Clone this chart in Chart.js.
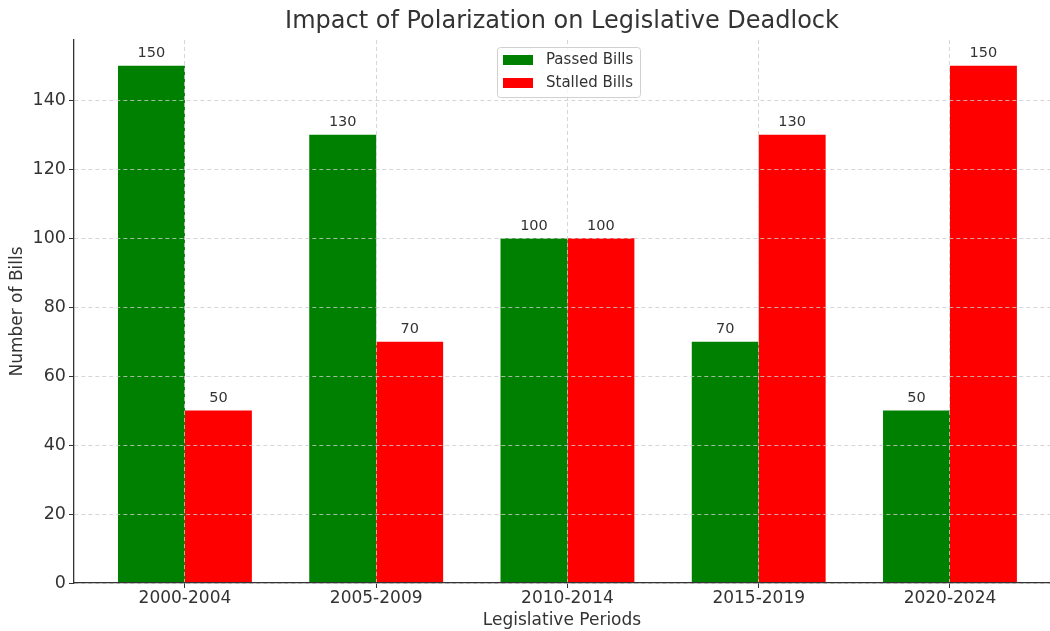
<!DOCTYPE html>
<html>
<head>
<meta charset="utf-8">
<script src="https://cdn.jsdelivr.net/npm/chart.js@4.4.1/dist/chart.umd.min.js"></script>
<style>
  html, body { margin: 0; padding: 0; background: #fff; }
  #wrap { width: 1050px; height: 631px; }
</style>
</head>
<body>
<div id="wrap"><canvas id="myChartBar" width="1050" height="631"></canvas></div>
<script>
let periods = ["2000-2004", "2005-2009", "2010-2014", "2015-2019", "2020-2024"];
let passedBills = [150, 130, 100, 70, 50];
let stalledBills = [50, 70, 100, 130, 150];
let yTicks = [0, 20, 40, 60, 80, 100, 120, 140];

const textColor = "#333333";
const font = "DejaVu Sans";

// value labels over each bar
const barLabels = {
  id: "barLabels",
  afterDatasetsDraw(chart) {
    const ctx = chart.ctx;
    ctx.save();
    ctx.font = "14.5px '" + font + "'";
    ctx.fillStyle = textColor;
    ctx.textAlign = "center";
    ctx.textBaseline = "bottom";
    chart.data.datasets.forEach((ds, i) => {
      chart.getDatasetMeta(i).data.forEach((bar, j) => {
        ctx.fillText(ds.data[j].y, bar.x, bar.y - 5);
      });
    });
    ctx.restore();
  }
};

// matplotlib style legend box inside the plot
const boxLegend = {
  id: "boxLegend",
  afterDraw(chart) {
    const ctx = chart.ctx;
    const x = 497, y = 47, w = 143, h = 50;
    ctx.save();
    ctx.fillStyle = "rgba(255,255,255,0.8)";
    ctx.strokeStyle = "#d0d0d0";
    ctx.lineWidth = 1;
    ctx.beginPath();
    ctx.roundRect(x + 0.5, y + 0.5, w, h, 3);
    ctx.fill();
    ctx.stroke();
    ctx.font = "15px '" + font + "'";
    ctx.textBaseline = "middle";
    chart.data.datasets.forEach((ds, i) => {
      const cy = y + 13 + i * 23;
      ctx.fillStyle = ds.backgroundColor;
      ctx.fillRect(x + 6, cy - 5, 30, 10);
      ctx.fillStyle = textColor;
      ctx.fillText(ds.label, x + 49, cy);
    });
    ctx.restore();
  }
};

function gridOpts() {
  return {
    offset: false,
    z: 1,
    color: "#cccccc",
    lineWidth: 0.8,
    tickLength: 5,
    tickColor: "#333333",
    tickBorderDash: [],
    tickWidth: 1
  };
}

function borderOpts() {
  return { z: 2, color: "#333333", width: 1.3, dash: [4, 3] };
}

new Chart(document.getElementById("myChartBar"), {
  type: "bar",
  data: {
    datasets: [
      {
        label: "Passed Bills",
        backgroundColor: "#008000",
        data: passedBills.map((v, i) => ({ x: i, y: v }))
      },
      {
        label: "Stalled Bills",
        backgroundColor: "#ff0000",
        data: stalledBills.map((v, i) => ({ x: i, y: v }))
      }
    ]
  },
  options: {
    responsive: false,
    animation: false,
    datasets: { bar: { categoryPercentage: 0.7, barPercentage: 1.0 } },
    layout: { padding: 0 },
    plugins: {
      legend: { display: false },
      tooltip: { enabled: false },
      title: {
        display: true,
        fullSize: false,
        text: "Impact of Polarization on Legislative Deadlock",
        color: textColor,
        font: { family: font, size: 24, weight: "normal" },
        padding: { top: 7.6, bottom: 3.6 }
      }
    },
    scales: {
      x: {
        type: "linear",
        min: -0.58,
        max: 4.523,
        offset: false,
        afterBuildTicks: (s) => { s.ticks = periods.map((p, i) => ({ value: i })); },
        afterFit: (s) => { s.height = 48; },
        ticks: {
          color: textColor,
          font: { family: font, size: 17 },
          padding: 0,
          maxRotation: 0,
          autoSkip: false,
          callback: (v) => periods[v]
        },
        grid: gridOpts(),
        border: borderOpts(),
        title: {
          display: true,
          text: "Legislative Periods",
          color: textColor,
          font: { family: font, size: 17 },
          padding: { top: 0, bottom: 0 }
        }
      },
      y: {
        min: 0,
        max: 157.5,
        afterBuildTicks: (s) => { s.ticks = yTicks.map((v) => ({ value: v })); },
        afterFit: (s) => { s.width = 74; },
        ticks: {
          color: textColor,
          font: { family: font, size: 17.5 },
          padding: 3
        },
        grid: gridOpts(),
        border: borderOpts(),
        title: {
          display: true,
          text: "Number of Bills",
          color: textColor,
          font: { family: font, size: 17 },
          padding: { top: 7, bottom: 0 }
        }
      }
    }
  },
  plugins: [barLabels, boxLegend]
});
</script>
</body>
</html>
